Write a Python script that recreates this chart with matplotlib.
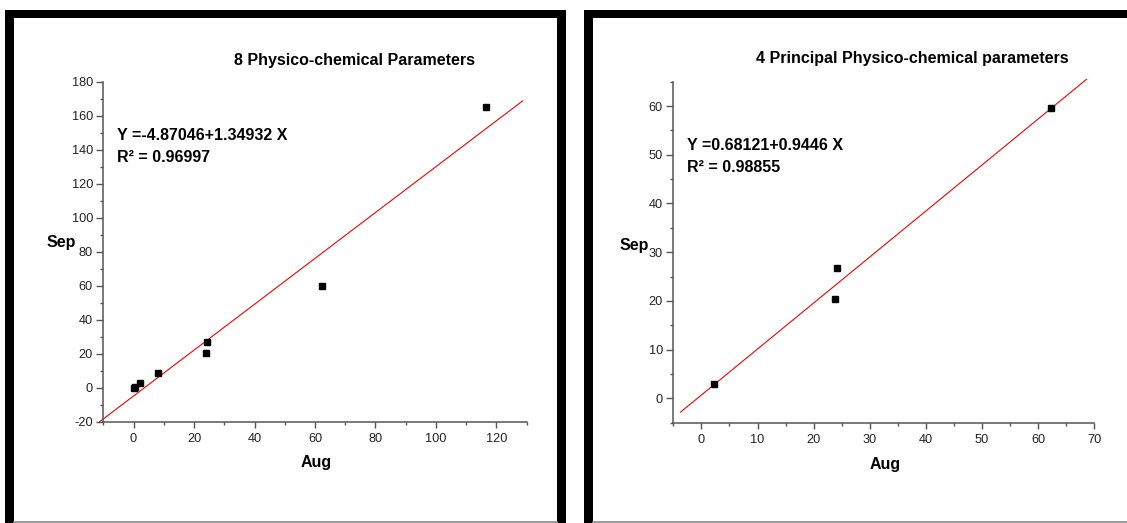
import numpy as np
import matplotlib.pyplot as plt
from matplotlib.patches import Rectangle
from matplotlib.lines import Line2D
from matplotlib.ticker import MultipleLocator

plt.rcParams['font.family'] = ['Liberation Sans', 'DejaVu Sans']
plt.rcParams['axes.unicode_minus'] = False

# 8 parameters (left)
aug_8 = [0.0, 0.5, 2.3, 8.2, 23.8, 24.2, 62.2, 116.7]
sep_8 = [0.1, 0.2, 2.9, 8.5, 20.2, 26.9, 59.8, 165.3]
fit_8 = (-4.87046, 1.34932)
fit_span_8 = (-11.4, 128.6)
eq_8 = ["Y =-4.87046+1.34932 X", "R\u00b2 = 0.96997"]
title_8 = "8 Physico-chemical Parameters"

# 4 principal parameters (right)
aug_4 = [2.3, 23.8, 24.2, 62.2]
sep_4 = [3.0, 20.3, 26.8, 59.7]
fit_4 = (0.68121, 0.9446)
fit_span_4 = (-3.7, 68.6)
eq_4 = ["Y =0.68121+0.9446 X", "R\u00b2 = 0.98855"]
title_4 = "4 Principal Physico-chemical parameters"

W, H = 1127, 523


def fx(x):
    return x / W


def fy(y):
    return 1 - y / H


fig = plt.figure(figsize=(W / 100, H / 100), dpi=100)


def bar(x0, y0, x1, y1):
    fig.add_artist(Rectangle((fx(x0), fy(y1)), fx(x1) - fx(x0), fy(y0) - fy(y1),
                             transform=fig.transFigure, color="black", lw=0))


def hline(x0, x1, y):
    fig.add_artist(Line2D([fx(x0), fx(x1)], [fy(y), fy(y)], transform=fig.transFigure,
                          color="#8a8a8a", lw=1.2))


# panel frames
bar(5, 10, 14, 523)
bar(5, 10, 566, 18)
bar(557, 10, 566, 523)
hline(14, 557, 521.5)
bar(584, 10, 593, 523)
bar(584, 10, 1127, 18)
hline(593, 1127, 521.5)


def panel(box, xs, ys, coef, span, xlim, ylim, xstep, ystep):
    x0, y0, x1, y1 = box
    ax = fig.add_axes([fx(x0), fy(y1), fx(x1) - fx(x0), fy(y0) - fy(y1)])
    ax.set_facecolor("none")
    for s in ["top", "right"]:
        ax.spines[s].set_visible(False)
    for s in ["left", "bottom"]:
        ax.spines[s].set_color("#555555")
        ax.spines[s].set_linewidth(1.1)
    ax.set_xlim(*xlim)
    ax.set_ylim(*ylim)
    ax.xaxis.set_major_locator(MultipleLocator(xstep))
    ax.xaxis.set_minor_locator(MultipleLocator(xstep / 2))
    ax.yaxis.set_major_locator(MultipleLocator(ystep))
    ax.yaxis.set_minor_locator(MultipleLocator(ystep / 2))
    ax.tick_params(axis="both", which="both", direction="out", color="#555555",
                   width=1.0, labelsize=9.2, labelcolor="#222222")
    ax.tick_params(axis="y", which="major", length=5, pad=2.5)
    ax.tick_params(axis="y", which="minor", length=2.5)
    ax.tick_params(axis="x", which="major", length=4, pad=4)
    ax.tick_params(axis="x", which="minor", length=2.5)

    lx = np.array(span)
    ax.plot(lx, coef[0] + coef[1] * lx, color="red", lw=0.8, clip_on=False, zorder=2)
    ax.plot(xs, ys, "s", color="black", ms=4.6, clip_on=False, zorder=3)
    return ax


panel((103.3, 81.7, 526.7, 421.7), aug_8, sep_8, fit_8, fit_span_8,
      (-10, 130), (-20, 180), 20, 20)
panel((673.3, 81.7, 1094.3, 422.7), aug_4, sep_4, fit_4, fit_span_4,
      (-5, 70), (-5, 65), 10, 10)

tkw = dict(fontsize=11.5, fontweight="bold", color="black")

fig.text(fx(354.5), fy(60), title_8, ha="center", va="center", **tkw)
fig.text(fx(912), fy(59), title_4, ha="center", va="center", **tkw)

fig.text(fx(116.7), fy(136), eq_8[0], ha="left", va="center", **tkw)
fig.text(fx(116.7), fy(157), eq_8[1], ha="left", va="center", **tkw)
fig.text(fx(686.7), fy(146), eq_4[0], ha="left", va="center", **tkw)
fig.text(fx(686.7), fy(167), eq_4[1], ha="left", va="center", **tkw)

fig.text(fx(61), fy(243), "Sep", ha="center", va="center", **tkw)
fig.text(fx(634), fy(245), "Sep", ha="center", va="center", **tkw)
fig.text(fx(316), fy(463), "Aug", ha="center", va="center", **tkw)
fig.text(fx(885), fy(464), "Aug", ha="center", va="center", **tkw)

fig.savefig("out.png", dpi=100)
